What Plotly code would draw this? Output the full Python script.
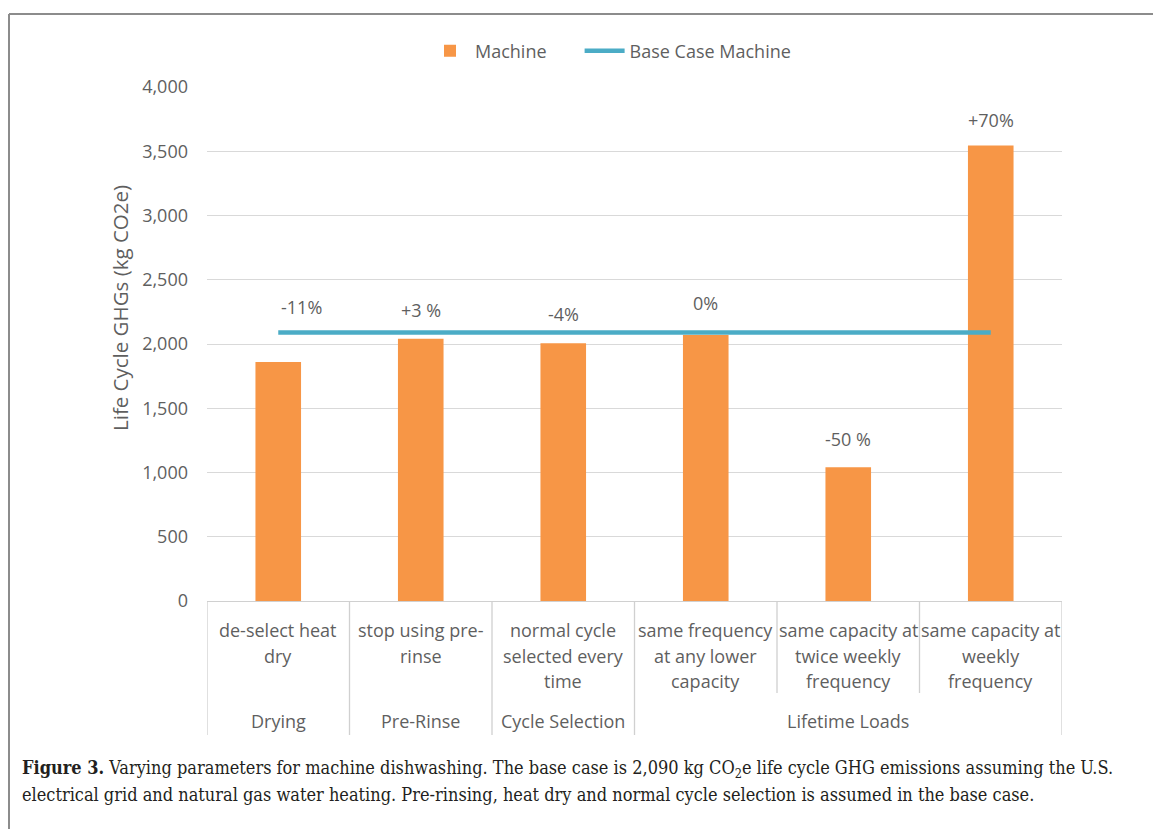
import plotly.graph_objects as go

# ---------------- data ----------------
sub_labels = [
    "de-select heat<br>dry",
    "stop using pre-<br>rinse",
    "normal cycle<br>selected every<br>time",
    "same frequency<br>at any lower<br>capacity",
    "same capacity at<br>twice weekly<br>frequency",
    "same capacity at<br>weekly<br>frequency",
]
groups = ["Drying", "Pre-Rinse", "Cycle Selection", "Lifetime Loads"]
group_sizes = [1, 1, 1, 3]
machine = [1860, 2040, 2005, 2070, 1040, 3545]
base_case = 2090
pct_labels = ["-11%", "+3 %", "-4%", "0%", "-50 %", "+70%"]
y_ticks = [0, 500, 1000, 1500, 2000, 2500, 3000, 3500, 4000]

# ---------------- style ----------------
W, H = 1153, 829
L, R, T, B = 207, 91, 87, 228
PH = H - T - B
PW = W - L - R
ORANGE = "#F79646"
BLUE = "#4BACC6"
TXT = "#5F5F5F"
GRID = "#D9D9D9"
FONT = "Open Sans"
FS = 18

def py(px_from_plot_bottom):
    """convert pixel offset below the plot bottom into paper y"""
    return -px_from_plot_bottom / PH

x_keys = [s.replace("<br>", " ") for s in sub_labels]

fig = go.Figure()
fig.add_trace(go.Bar(x=x_keys, y=machine, name="Machine" + "\u00a0" * 6,
                     marker=dict(color=ORANGE, line=dict(width=0)),
                     width=0.32))
fig.add_trace(go.Scatter(x=x_keys, y=[base_case] * len(x_keys),
                         name="Base Case Machine", mode="lines",
                         line=dict(color=BLUE, width=4.5)))

ann = []
# percentage labels: near the base line when close to it, otherwise above the bar
xshifts = [23, 0, 0, 0, 0, 0]
yshifts = [11, 8, 4, 15, 14, 11]
for i, (k, v, lab) in enumerate(zip(x_keys, machine, pct_labels)):
    anchor = base_case if abs(v - base_case) < 400 else v
    ann.append(dict(x=k, y=anchor, xref="x", yref="y", text=lab,
                    showarrow=False, yanchor="bottom", xshift=xshifts[i],
                    yshift=yshifts[i],
                    font=dict(family=FONT, size=FS, color=TXT)))

# category labels (one annotation per line)
for i, s in enumerate(sub_labels):
    for j, line in enumerate(s.split("<br>")):
        ann.append(dict(x=i, y=py(29 + 25.5 * j), xref="x", yref="paper",
                        text=line, showarrow=False, yanchor="middle",
                        font=dict(family=FONT, size=FS, color=TXT)))

shapes = []
start = 0
DIV = dict(color="#D0D0D0", width=1.3)
for g, n in zip(groups, group_sizes):
    center = start + (n - 1) / 2
    ann.append(dict(x=center, y=py(120), xref="x", yref="paper", text=g,
                    showarrow=False, yanchor="middle",
                    font=dict(family=FONT, size=FS, color=TXT)))
    shapes.append(dict(type="line", xref="x", yref="paper",
                       x0=start - 0.5, x1=start - 0.5, y0=0, y1=py(134), line=DIV))
    for k in range(1, n):
        shapes.append(dict(type="line", xref="x", yref="paper",
                           x0=start + k - 0.5, x1=start + k - 0.5, y0=0, y1=py(92),
                           line=DIV))
    start += n
shapes.append(dict(type="line", xref="x", yref="paper",
                   x0=start - 0.5, x1=start - 0.5, y0=0, y1=py(134), line=DIV))

# y axis title
ann.append(dict(x=-(L - 120) / PW, y=(H - B - 308) / PH, xref="paper", yref="paper",
                text="Life Cycle GHGs (kg CO2e)", textangle=-90, showarrow=False,
                xanchor="center", yanchor="middle",
                font=dict(family=FONT, size=20.5, color=TXT)))

# outer figure frame (top and left edges)
fx = -(L - 9) / PW
fy = 1 + (T - 14) / PH
shapes.append(dict(type="line", xref="paper", yref="paper",
                   x0=fx, x1=(W - L) / PW, y0=fy, y1=fy,
                   line=dict(color="#8C8C8C", width=2)))
shapes.append(dict(type="line", xref="paper", yref="paper",
                   x0=fx, x1=fx, y0=fy, y1=-B / PH,
                   line=dict(color="#8C8C8C", width=2)))

# caption
cap1 = ("<b>Figure 3.</b> Varying parameters for machine dishwashing. The base case is 2,090 kg CO<sub>2</sub>e "
        "life cycle GHG emissions assuming the U.S.")
cap2 = ("electrical grid and natural gas water heating. Pre-rinsing, heat dry and normal cycle selection "
        "is assumed in the base case.")
for txt, ypx in [(cap1, 769), (cap2, 794)]:
    ann.append(dict(x=-(L - 20) / PW, y=py(ypx - (H - B)), xref="paper", yref="paper",
                    text=txt, showarrow=False, xanchor="left", yanchor="middle",
                    font=dict(family="DejaVu Serif Condensed", size=18, color="#231F20")))

fig.update_layout(
    width=W, height=H,
    margin=dict(l=L, r=R, t=T, b=B, autoexpand=False),
    paper_bgcolor="white", plot_bgcolor="white",
    showlegend=True,
    legend=dict(orientation="h", x=(425 - L) / PW, xanchor="left", y=1 + 36 / PH,
                yanchor="middle", font=dict(family=FONT, size=FS, color=TXT),
                bgcolor="rgba(0,0,0,0)", itemwidth=40),
    bargap=0.68,
    annotations=ann, shapes=shapes,
    font=dict(family=FONT, color=TXT),
)
fig.update_xaxes(type="category", range=[-0.5, 5.5], showticklabels=False,
                 showgrid=False, showline=True, linecolor="#D0D0D0", linewidth=1.3,
                 ticks="", zeroline=False, fixedrange=True)
fig.update_yaxes(range=[0, 4000], tickvals=y_ticks, tickformat=",",
                 showgrid=True, gridcolor=GRID, gridwidth=1.3, zeroline=False,
                 showline=False, ticks="", ticklabelstandoff=18,
                 tickfont=dict(family=FONT, size=FS, color=TXT),
                 automargin=False)

fig.write_html("out.html")
